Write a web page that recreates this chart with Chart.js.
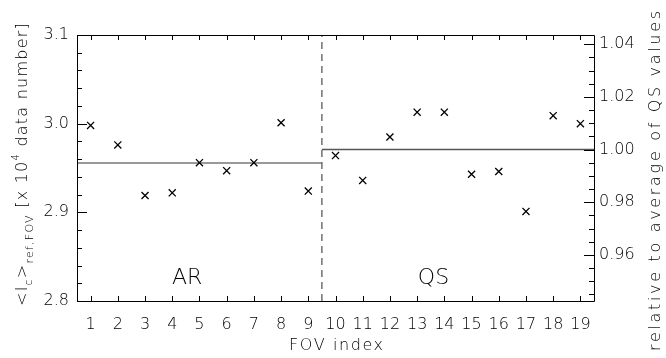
<!DOCTYPE html>
<html>
<head>
<meta charset="utf-8">
<script src="https://cdn.jsdelivr.net/npm/chart.js@4/dist/chart.umd.min.js"></script>
<style>
  html, body { margin: 0; padding: 0; background: #fff; }
</style>
</head>
<body>
<canvas id="myChart" width="666" height="358"></canvas>
<script>
// FOV index and mean reference continuum intensity (x 10^4 data number)
var fovIndex = [1, 2, 3, 4, 5, 6, 7, 8, 9, 10, 11, 12, 13, 14, 15, 16, 17, 18, 19];
var meanIc = [2.998, 2.976, 2.919, 2.922, 2.956, 2.947, 2.956, 3.001, 2.924,
              2.964, 2.936, 2.985, 3.013, 3.013, 2.943, 2.946, 2.901, 3.009, 3.000];

// averages of the two groups, and where the groups split
var arMean = 2.9557;
var qsMean = 2.9708;
var boundary = 9.5;
var regionNames = ["AR", "QS"];
var regionPos = [4.55, 13.6];

// axis ticks
var leftTicks = [2.8, 2.9, 3.0, 3.1];
var leftMinorStep = 0.02;
var rightTicks = [0.96, 0.98, 1.00, 1.02, 1.04];
var rightMinorStep = 0.005;

var FONT = "DejaVu Sans";
var TXT = "#000";

// draws frame, inward tick marks, titles and region labels
var idlAxes = {
  id: "idlAxes",
  afterDatasetsDraw: function (chart) {
    var ctx = chart.ctx;
    var a = chart.chartArea;
    var sx = chart.scales.x, sy = chart.scales.y, sy2 = chart.scales.y2;
    ctx.save();
    ctx.strokeStyle = "#000";
    ctx.lineWidth = 1;
    ctx.beginPath();
    ctx.rect(Math.round(a.left) + 0.5, Math.round(a.top) + 0.5,
             Math.round(a.right - a.left), Math.round(a.bottom - a.top));
    ctx.stroke();

    ctx.beginPath();
    // x ticks, bottom and top
    fovIndex.forEach(function (v) {
      var px = Math.round(sx.getPixelForValue(v)) + 0.5;
      ctx.moveTo(px, a.bottom); ctx.lineTo(px, a.bottom - 5);
      ctx.moveTo(px, a.top); ctx.lineTo(px, a.top + 5);
    });
    // left ticks
    for (var v = sy.min; v <= sy.max + 1e-9; v += leftMinorStep) {
      var major = leftTicks.some(function (t) { return Math.abs(t - v) < 1e-6; });
      var py = Math.round(sy.getPixelForValue(v)) + 0.5;
      ctx.moveTo(a.left, py); ctx.lineTo(a.left + (major ? 10 : 5), py);
    }
    // right ticks
    var start = Math.ceil(sy2.min / rightMinorStep - 1e-6) * rightMinorStep;
    for (var w = start; w <= sy2.max + 1e-9; w += rightMinorStep) {
      var maj = rightTicks.some(function (t) { return Math.abs(t - w) < 1e-6; });
      var py2 = Math.round(sy2.getPixelForValue(w)) + 0.5;
      ctx.moveTo(a.right, py2); ctx.lineTo(a.right - (maj ? 10 : 5), py2);
    }
    ctx.stroke();

    // region labels
    ctx.fillStyle = TXT;
    ctx.font = "200 22px " + FONT;
    ctx.textAlign = "center";
    ctx.textBaseline = "alphabetic";
    regionNames.forEach(function (name, i) {
      ctx.fillText(name, sx.getPixelForValue(regionPos[i]), 284);
    });

    // x title
    drawSpaced(ctx, "FOV index", "200 16px " + FONT, 336, 350, 94);

    // right title
    ctx.save();
    ctx.translate(660, 181);
    ctx.rotate(-Math.PI / 2);
    drawSpaced(ctx, "relative to average of QS values", "200 16px " + FONT, 0, 0, 340);
    ctx.restore();

    // left title with sub/superscripts
    ctx.save();
    ctx.translate(27, 164);
    ctx.rotate(-Math.PI / 2);
    drawRich(ctx, [
      ["<I", 0, 16], ["c", 5, 11], [">", 0, 16], ["ref,FOV", 6, 11],
      [" [x 10", 0, 16], ["4", -8, 10], [" data number]", 0, 16]
    ], 284);
    ctx.restore();
    ctx.restore();
  }
};

function drawSpaced(ctx, text, font, cx, y, target) {
  ctx.font = font;
  ctx.letterSpacing = "0px";
  var w = ctx.measureText(text).width;
  var ls = (target - w) / (text.length - 1);
  ctx.letterSpacing = ls + "px";
  ctx.textAlign = "left";
  ctx.textBaseline = "alphabetic";
  ctx.fillStyle = TXT;
  ctx.fillText(text, cx - target / 2, y);
  ctx.letterSpacing = "0px";
}

function drawRich(ctx, parts, target) {
  ctx.letterSpacing = "0px";
  var total = 0, n = 0;
  parts.forEach(function (p) {
    ctx.font = "200 " + p[2] + "px " + FONT;
    total += ctx.measureText(p[0]).width;
    n += p[0].length;
  });
  var ls = (target - total) / n;
  ctx.letterSpacing = ls + "px";
  var x = -target / 2;
  ctx.textAlign = "left";
  ctx.textBaseline = "alphabetic";
  ctx.fillStyle = TXT;
  parts.forEach(function (p) {
    ctx.font = "200 " + p[2] + "px " + FONT;
    ctx.fillText(p[0], x, p[1]);
    x += ctx.measureText(p[0]).width;
  });
  ctx.letterSpacing = "0px";
}

var tickFont = { family: FONT, size: 16, weight: 200 };

var config = {
  type: "scatter",
  data: {
    datasets: [
      {
        type: "line",
        data: [{ x: 0.5, y: arMean }, { x: boundary, y: arMean }],
        borderColor: "#777",
        borderWidth: 1.6,
        pointRadius: 0,
        order: 3
      },
      {
        type: "line",
        data: [{ x: boundary, y: qsMean }, { x: 19.5, y: qsMean }],
        borderColor: "#555",
        borderWidth: 1.6,
        pointRadius: 0,
        order: 3
      },
      {
        type: "line",
        data: [{ x: boundary, y: 2.8 }, { x: boundary, y: 3.1 }],
        borderColor: "#666",
        borderWidth: 1.4,
        borderDash: [7, 5],
        pointRadius: 0,
        order: 2
      },
      {
        data: fovIndex.map(function (f, i) { return { x: f, y: meanIc[i] }; }),
        pointStyle: "crossRot",
        pointRadius: 5,
        borderColor: "#000",
        borderWidth: 1.3,
        backgroundColor: "#000",
        order: 1
      }
    ]
  },
  options: {
    responsive: false,
    devicePixelRatio: 1,
    animation: false,
    layout: { padding: { top: 35, left: 0, right: 0, bottom: 0 } },
    plugins: {
      legend: { display: false },
      tooltip: { enabled: false },
      title: { display: false }
    },
    scales: {
      x: {
        type: "linear",
        position: "bottom",
        min: 0.5,
        max: 19.5,
        afterBuildTicks: function (s) {
          s.ticks = fovIndex.map(function (v) { return { value: v }; });
        },
        afterFit: function (s) { s.height = 57; },
        grid: { display: false, drawTicks: false },
        border: { display: false },
        ticks: {
          autoSkip: false,
          maxRotation: 0,
          padding: 14,
          color: TXT,
          font: tickFont,
          callback: function (v) { return String(v); }
        }
      },
      y: {
        type: "linear",
        position: "left",
        min: 2.8,
        max: 3.1,
        afterBuildTicks: function (s) {
          s.ticks = leftTicks.map(function (v) { return { value: v }; });
        },
        afterFit: function (s) { s.width = 77; },
        grid: { display: false, drawTicks: false },
        border: { display: false },
        ticks: {
          padding: 8,
          color: TXT,
          font: tickFont,
          callback: function (v) { return v.toFixed(1); }
        }
      },
      y2: {
        type: "linear",
        position: "right",
        min: 2.8 / qsMean,
        max: 3.1 / qsMean,
        afterBuildTicks: function (s) {
          s.ticks = rightTicks.map(function (v) { return { value: v }; });
        },
        afterFit: function (s) { s.width = 72; },
        grid: { display: false, drawTicks: false },
        border: { display: false },
        ticks: {
          padding: 5,
          color: TXT,
          font: tickFont,
          callback: function (v) { return v.toFixed(2); }
        }
      }
    }
  },
  plugins: [idlAxes]
};

var ctx = document.getElementById("myChart").getContext("2d");
var myChart = new Chart(ctx, config);
</script>
</body>
</html>
